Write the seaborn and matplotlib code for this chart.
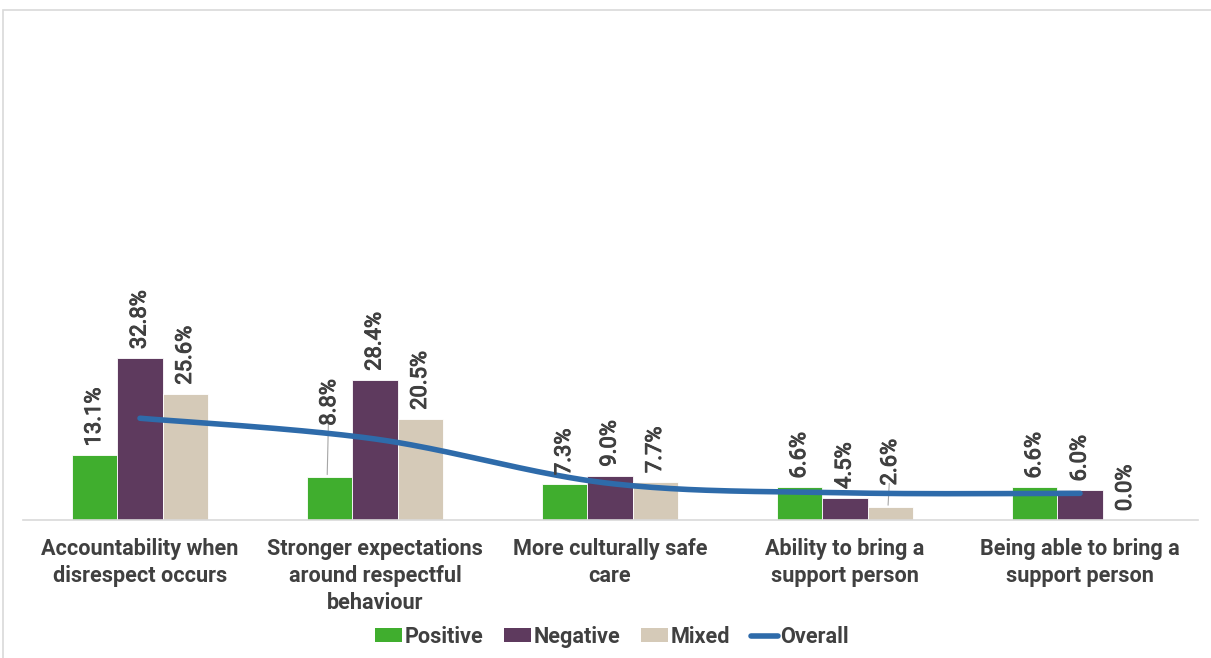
import numpy as np
import pandas as pd
import matplotlib
matplotlib.use("Agg")
import matplotlib.pyplot as plt
import matplotlib.patheffects as pe
from matplotlib.patches import Patch, Rectangle
from matplotlib.lines import Line2D
import seaborn as sns

# ---- data ----
categories = [
    "Accountability when\ndisrespect occurs",
    "Stronger expectations\naround respectful\nbehaviour",
    "More culturally safe\ncare",
    "Ability to bring a\nsupport person",
    "Being able to bring a\nsupport person",
]
positive = [13.1, 8.8, 7.3, 6.6, 6.6]
negative = [32.8, 28.4, 9.0, 4.5, 6.0]
mixed = [25.6, 20.5, 7.7, 2.6, 0.0]
overall = [20.6, 16.4, 7.4, 5.5, 5.4]
series_names = ["Positive", "Negative", "Mixed"]

colors = {"Positive": "#40AE2E", "Negative": "#5E3A5E", "Mixed": "#D5CAB8"}
line_color = "#2E6BAA"
text_color = "#404040"

sns.set_theme(style="white")
plt.rcParams["font.family"] = ["Roboto", "DejaVu Sans"]

df = pd.DataFrame({
    "category": np.repeat(categories, 3),
    "series": series_names * len(categories),
    "value": [v for trio in zip(positive, negative, mixed) for v in trio],
})

fig = plt.figure(figsize=(12.11, 6.58), dpi=100)
ax = fig.add_axes([22.5 / 1211, 138 / 658, 1175 / 1211, 494 / 658])

sns.barplot(data=df, x="category", y="value", hue="series", order=categories,
            hue_order=series_names, palette=colors, saturation=1, width=0.58, ax=ax,
            edgecolor="white", linewidth=0.6, legend=False, errorbar=None)

ax.set_ylim(0, 100)
ax.set_xlim(-0.5, len(categories) - 0.5)
ax.set_yticks([])
ax.set_ylabel("")
ax.set_xlabel("")
for side in ["top", "left", "right"]:
    ax.spines[side].set_visible(False)
ax.spines["bottom"].set_color("#D9D9D9")
ax.spines["bottom"].set_linewidth(1.2)
ax.tick_params(axis="x", length=0, pad=13)
ax.set_xticks(range(len(categories)))
ax.set_xticklabels(categories, fontsize=15.6, fontweight="bold",
                   color=text_color, linespacing=1.28, va="top")


# smooth curve through the overall points (Catmull-Rom style, as a spreadsheet smooth line)
def smooth_curve(xs, ys, n=40):
    xs = np.asarray(xs, float)
    ys = np.asarray(ys, float)
    px = np.concatenate([[xs[0]], xs, [xs[-1]]])
    py = np.concatenate([[ys[0]], ys, [ys[-1]]])
    out_x, out_y = [], []
    for i in range(1, len(px) - 2):
        p0 = np.array([px[i - 1], py[i - 1]])
        p1 = np.array([px[i], py[i]])
        p2 = np.array([px[i + 1], py[i + 1]])
        p3 = np.array([px[i + 2], py[i + 2]])
        c1 = p1 + (p2 - p0) / 6
        c2 = p2 - (p3 - p1) / 6
        t = np.linspace(0, 1, n)[:, None]
        pts = ((1 - t) ** 3) * p1 + 3 * ((1 - t) ** 2) * t * c1 + 3 * (1 - t) * t ** 2 * c2 + t ** 3 * p2
        out_x.extend(pts[:, 0])
        out_y.extend(pts[:, 1])
    return np.array(out_x), np.array(out_y)


sx, sy = smooth_curve(range(len(categories)), overall)
ax.plot(sx, sy, color=line_color, lw=4, solid_capstyle="round", zorder=5)

# value labels above each bar (slightly heavier than regular weight)
label_fx = [pe.withStroke(linewidth=0.7, foreground=text_color)]
offset_bar = 0.58 / 3
# (category index, series index) -> extra lift in data units for labels with a leader line
lifted = {(1, 0): 8.5, (3, 2): 2.6}
for s_idx, vals in enumerate([positive, negative, mixed]):
    for c_idx, v in enumerate(vals):
        x = c_idx + (s_idx - 1) * offset_bar
        lift = lifted.get((c_idx, s_idx), 0.0)
        y = v + 1.8 + lift
        ax.text(x, y, f"{v:.1f}%", rotation=90, ha="center", va="bottom",
                fontsize=15.8, color=text_color, zorder=6, path_effects=label_fx)
        if lift:
            ax.plot([x - 0.01, x - 0.005], [v + 0.4, y + 0.4], color="#A6A6A6", lw=0.8, zorder=4)

# legend
handles = [Patch(facecolor=colors[s], edgecolor="none", label=s) for s in series_names]
handles.append(Line2D([0], [0], color=line_color, lw=4, solid_capstyle="round", label="Overall"))
fig.legend(handles=handles, loc="center", bbox_to_anchor=(612 / 1211, 1 - 637 / 658), ncol=4,
           frameon=False, prop={"weight": "bold", "size": 15.6}, labelcolor=text_color,
           handlelength=1.25, handleheight=0.6, handletextpad=0.12, columnspacing=0.95)

# light frame around the chart area
fig.patches.append(Rectangle((3 / 1211, -0.01), 1.01, 1 - 10 / 658 + 0.01,
                             transform=fig.transFigure, fill=False,
                             edgecolor="#D9D9D9", lw=1.2, zorder=0))

fig.savefig("out.png", dpi=100, facecolor="white")
